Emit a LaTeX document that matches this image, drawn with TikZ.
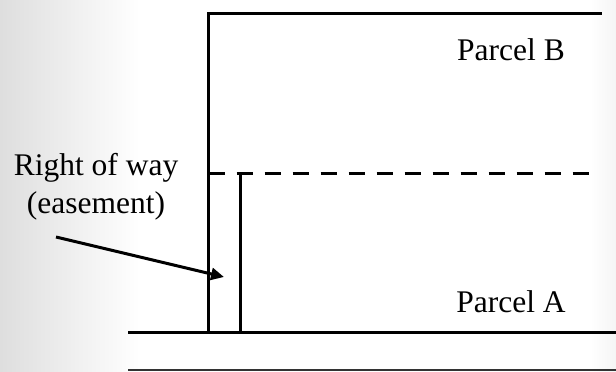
\documentclass[tikz,border=0pt]{standalone}
\usepackage{fontspec}
\setmainfont{Liberation Serif}
\usetikzlibrary{arrows.meta}
\begin{document}
\begin{tikzpicture}[x=1pt,y=-1pt,
  boundary/.style={line width=3pt},
  rowline/.style={line width=3.4pt, dash pattern=on 16pt off 12pt},
  label/.style={font=\fontsize{31.5}{38}\selectfont, inner sep=0pt, align=center},
  pointer/.style={line width=3pt, -{Triangle[length=13pt,width=12pt]}}]
  % page with a soft grey edge on the left
  \useasboundingbox (0,0) rectangle (616,372);
  \shade[left color=black!13, right color=white] (0,0) rectangle (140,372);
  \fill[white] (140,0) rectangle (590,372);
  \shade[left color=white, right color=black!4] (590,0) rectangle (616,372);

  % boundaries
  \coordinate (tl) at (208.5,13.5);
  \coordinate (tr) at (600,13.5);
  \coordinate (bl) at (128,332);
  \coordinate (br) at (616,332);
  \coordinate (wall) at (208.5,332);
  \coordinate (dl) at (208.5,173.5);
  \coordinate (dr) at (590,173.5);
  \coordinate (et) at (240,173.5);
  \coordinate (eb) at (240,332);
  \coordinate (ll) at (128,370);
  \coordinate (lr) at (616,370);

  \draw[boundary, line cap=rect] (tr) -- (tl) -- (wall);
  \draw[boundary] (bl) -- (br);
  \draw[rowline] (dl) -- (dr);
  \draw[boundary] (et) -- (eb);
  \draw[line width=1.2pt, black!80] (ll) -- (lr);

  % labels
  \node[label] (pb) at (511,50) {Parcel B};
  \node[label] (pa) at (511,302) {Parcel A};
  \node[label] (row) at (96,187) {Right of way\\(easement)};

  \coordinate (tip) at (224,277);
  \coordinate (tail) at (56,237);
  \draw[pointer] (tail) -- (tip);
\end{tikzpicture}
\end{document}
